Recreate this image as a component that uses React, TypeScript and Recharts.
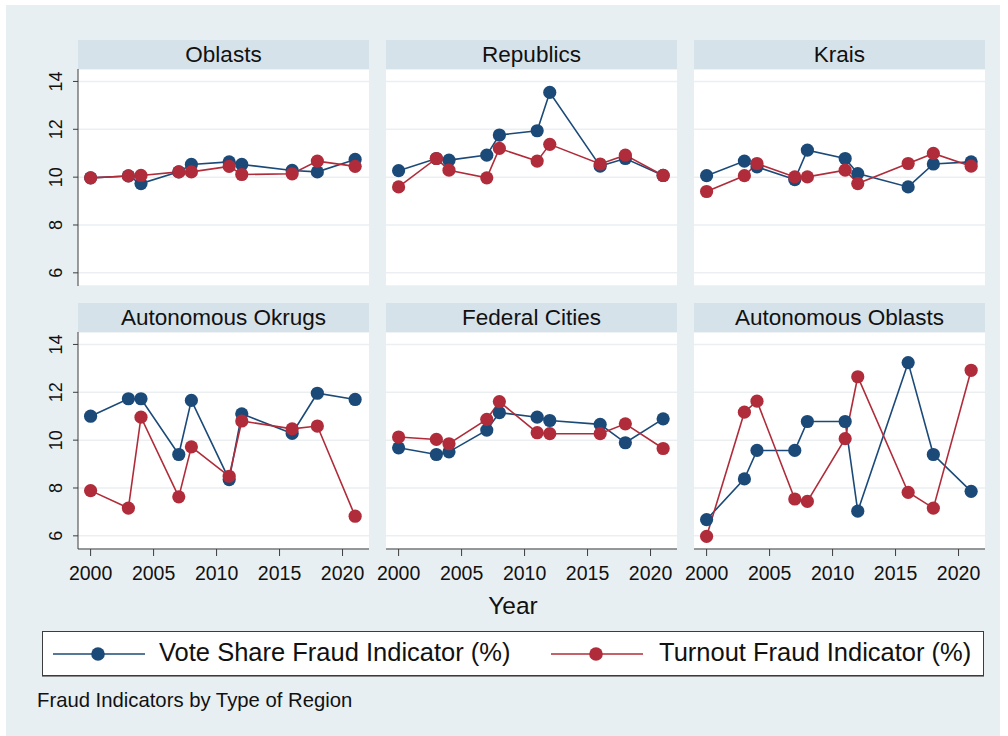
import React from 'react';
import { LineChart, Line, XAxis, YAxis, CartesianGrid } from 'recharts';

// Election years covered by the series
const years = [2000, 2003, 2004, 2007, 2008, 2011, 2012, 2016, 2018, 2021];

const regionTypes = ['Oblasts', 'Republics', 'Krais', 'Autonomous Okrugs', 'Federal Cities', 'Autonomous Oblasts'];

// Vote share fraud indicator (%) by region type
const voteShareOblasts = [9.97, 10.05, 9.73, 10.22, 10.53, 10.64, 10.53, 10.28, 10.22, 10.74];
const voteShareRepublics = [10.27, 10.78, 10.71, 10.92, 11.76, 11.94, 13.54, 10.46, 10.78, 10.07];
const voteShareKrais = [10.06, 10.67, 10.43, 9.9, 11.13, 10.78, 10.15, 9.59, 10.55, 10.64];
const voteShareAutoOkrugs = [11.0, 11.73, 11.73, 9.4, 11.66, 8.35, 11.1, 10.28, 11.96, 11.7];
const voteShareFedCities = [9.68, 9.4, 9.51, 10.42, 11.15, 10.96, 10.82, 10.66, 9.89, 10.89];
const voteShareAutoOblasts = [6.68, 8.38, 9.57, 9.57, 10.78, 10.78, 7.03, 13.24, 9.4, 7.86];

// Turnout fraud indicator (%) by region type
const turnoutOblasts = [9.97, 10.05, 10.07, 10.22, 10.22, 10.45, 10.11, 10.14, 10.67, 10.45];
const turnoutRepublics = [9.59, 10.78, 10.29, 9.97, 11.2, 10.67, 11.37, 10.55, 10.92, 10.07];
const turnoutKrais = [9.4, 10.06, 10.57, 10.01, 10.01, 10.29, 9.73, 10.57, 10.99, 10.46];
const turnoutAutoOkrugs = [7.89, 7.16, 10.96, 7.63, 9.72, 8.49, 10.8, 10.47, 10.59, 6.82];
const turnoutFedCities = [10.13, 10.03, 9.85, 10.87, 11.61, 10.31, 10.27, 10.27, 10.68, 9.65];
const turnoutAutoOblasts = [5.98, 11.17, 11.63, 7.54, 7.44, 10.06, 12.65, 7.82, 7.16, 12.92];

const voteShareSeries = [voteShareOblasts, voteShareRepublics, voteShareKrais, voteShareAutoOkrugs, voteShareFedCities, voteShareAutoOblasts];
const turnoutSeries = [turnoutOblasts, turnoutRepublics, turnoutKrais, turnoutAutoOkrugs, turnoutFedCities, turnoutAutoOblasts];

const yTicks = [6, 8, 10, 12, 14];
const xTicks = [2000, 2005, 2010, 2015, 2020];

const seriesNames = ['Vote Share Fraud Indicator (%)', 'Turnout Fraud Indicator (%)'];
const axisTitle = 'Year';
const note = 'Fraud Indicators by Type of Region';

const BLUE = '#1b4a79';
const RED = '#b02c3a';
const BG = '#e8eff2';
const STRIP = '#d6e2ea';
const AXIS = '#3c3c3c';
const FONT = '"Liberation Sans", Arial, Helvetica, sans-serif';

const PLOT_W = 291;
const PLOT_H = 217;
const Y_AXIS_W = 48;
const SIDE_PAD = 26; // room for the first x tick label in the inner columns
const X_AXIS_H = 44;
const colLeft = [78, 386, 694];
const rowTop = [69, 332];

const YTick = (props: any) => {
  const { x, y, payload } = props;
  return (
    <text
      transform={`translate(${x - 9},${y}) rotate(-90)`}
      textAnchor="middle"
      fontFamily={FONT}
      fontSize={18}
      fill="#111"
    >
      {payload.value}
    </text>
  );
};

const XTick = (props: any) => {
  const { x, y, payload } = props;
  return (
    <text x={x} y={y + 21.5} textAnchor="middle" fontFamily={FONT} fontSize={19.5} fill="#111">
      {payload.value}
    </text>
  );
};

function Panel({ index }: { index: number }) {
  const col = index % 3;
  const row = Math.floor(index / 3);
  const yw = col === 0 ? Y_AXIS_W : 0;
  const padL = col === 0 ? 0 : SIDE_PAD;
  const xh = row === 1 ? X_AXIS_H : 0;
  const data = years.map((year, i) => ({
    year,
    vote: voteShareSeries[index][i],
    turnout: turnoutSeries[index][i],
  }));
  return (
    <>
      <div
        style={{
          position: 'absolute',
          left: colLeft[col],
          top: rowTop[row] - 29,
          width: PLOT_W,
          height: 29,
          background: STRIP,
          fontFamily: FONT,
          fontSize: 22.5,
          color: '#111',
          textAlign: 'center',
          lineHeight: '29px',
        }}
      >
        {regionTypes[index]}
      </div>
      <div style={{ position: 'absolute', left: colLeft[col] - yw - padL, top: rowTop[row] }}>
        <LineChart
          width={PLOT_W + yw + padL}
          height={PLOT_H + xh}
          data={data}
          margin={{ top: 0, right: 0, bottom: 0, left: padL }}
        >
          <CartesianGrid vertical={false} stroke="#ebeff2" strokeWidth={1.5} fill="#ffffff" />
          <XAxis
            dataKey="year"
            type="number"
            domain={[1999, 2022.1]}
            ticks={xTicks}
            interval={0}
            allowDataOverflow
            hide={row === 0}
            height={X_AXIS_H}
            tickSize={7}
            axisLine={{ stroke: AXIS, strokeWidth: 1 }}
            tickLine={{ stroke: AXIS, strokeWidth: 1 }}
            tick={<XTick />}
          />
          <YAxis
            type="number"
            domain={[5.45, 14.52]}
            ticks={yTicks}
            interval={0}
            allowDataOverflow
            hide={col !== 0}
            width={Y_AXIS_W}
            tickSize={5}
            axisLine={{ stroke: AXIS, strokeWidth: 1 }}
            tickLine={{ stroke: AXIS, strokeWidth: 1 }}
            tick={<YTick />}
          />
          <Line
            dataKey="vote"
            stroke={BLUE}
            strokeWidth={1.6}
            dot={{ r: 6.6, fill: BLUE, stroke: BLUE, strokeWidth: 0 }}
            isAnimationActive={false}
          />
          <Line
            dataKey="turnout"
            stroke={RED}
            strokeWidth={1.6}
            dot={{ r: 6.6, fill: RED, stroke: RED, strokeWidth: 0 }}
            isAnimationActive={false}
          />
        </LineChart>
      </div>
    </>
  );
}

function LegendKey({ color }: { color: string }) {
  return (
    <svg width={92} height={16} style={{ display: 'block' }}>
      <line x1={0} y1={8} x2={92} y2={8} stroke={color} strokeWidth={1.6} />
      <circle cx={45} cy={8} r={6.8} fill={color} />
    </svg>
  );
}

export default function App() {
  return (
    <div style={{ position: 'absolute', left: 0, top: 0, width: 1008, height: 736, background: '#fff', overflow: 'hidden' }}>
      <div style={{ position: 'absolute', left: 6, top: 5, width: 994, height: 731, background: BG }} />
      {regionTypes.map((_, i) => (
        <Panel key={i} index={i} />
      ))}
      <div
        style={{
          position: 'absolute',
          left: 413,
          top: 592,
          width: 200,
          textAlign: 'center',
          fontFamily: FONT,
          fontSize: 24.5,
          color: '#111',
        }}
      >
        {axisTitle}
      </div>
      <div
        style={{
          position: 'absolute',
          left: 42,
          top: 631,
          width: 940,
          height: 43,
          background: '#fff',
          border: `1px solid ${AXIS}`,
          boxShadow: '0 1px 0 #888',
        }}
      >
        <div style={{ position: 'absolute', left: 10, top: 14 }}>
          <LegendKey color={BLUE} />
        </div>
        <div style={{ position: 'absolute', left: 116, top: 6, fontFamily: FONT, fontSize: 25.5, color: '#111', whiteSpace: 'nowrap' }}>
          {seriesNames[0]}
        </div>
        <div style={{ position: 'absolute', left: 508, top: 14 }}>
          <LegendKey color={RED} />
        </div>
        <div style={{ position: 'absolute', left: 616, top: 6, fontFamily: FONT, fontSize: 25.5, color: '#111', whiteSpace: 'nowrap' }}>
          {seriesNames[1]}
        </div>
      </div>
      <div
        style={{
          position: 'absolute',
          left: 37,
          top: 689,
          fontFamily: FONT,
          fontSize: 20.3,
          color: '#111',
          whiteSpace: 'nowrap',
        }}
      >
        {note}
      </div>
    </div>
  );
}
